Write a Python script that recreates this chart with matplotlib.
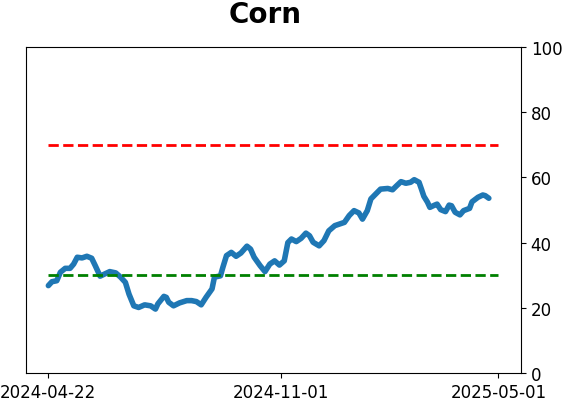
import matplotlib
matplotlib.use("Agg")
import matplotlib.pyplot as plt
import pandas as pd

# values (days after start, percent)
start = "2024-04-22"
end = "2025-05-01"
day_offsets = [0, 3, 7, 10, 14, 18, 21, 24, 28, 32, 36, 39, 43, 47, 51, 56, 60, 64,
               67, 71, 75, 80, 85, 89, 91, 96, 98, 100, 104, 109, 115, 119, 123, 127,
               131, 136, 138, 143, 145, 148, 152, 156, 160, 165, 168, 171, 176, 180,
               184, 188, 192, 196, 199, 202, 206, 210, 214, 217, 220, 225, 229, 233,
               238, 242, 246, 250, 254, 258, 261, 265, 268, 272, 276, 282, 286, 289,
               293, 297, 301, 304, 308, 310, 312, 315, 317, 321, 323, 326, 330, 333,
               335, 338, 342, 345, 350, 352, 357, 361, 363, 366]
values = [26.8, 28.0, 28.3, 30.9, 32.1, 32.1, 33.4, 35.5, 35.3, 35.8, 35.2, 32.9,
          29.7, 30.4, 31.1, 30.7, 29.4, 27.8, 24.2, 20.6, 20.1, 20.9, 20.6, 19.6,
          21.2, 23.5, 23.2, 21.7, 20.6, 21.5, 22.2, 22.2, 21.9, 20.9, 23.2, 25.8,
          29.4, 29.8, 32.4, 36.0, 37.0, 35.8, 36.8, 38.9, 38.0, 35.5, 32.9, 31.1,
          33.4, 34.4, 33.1, 34.4, 40.0, 41.1, 40.3, 41.3, 42.9, 42.1, 40.1, 39.0,
          40.6, 43.6, 45.2, 45.7, 46.2, 48.3, 49.8, 49.1, 47.2, 49.8, 53.4, 54.9,
          56.4, 56.6, 56.2, 57.3, 58.7, 58.2, 58.5, 59.3, 58.5, 56.4, 54.2, 52.4,
          50.8, 51.5, 51.8, 50.1, 49.5, 51.5, 51.3, 49.3, 48.5, 49.8, 50.5, 52.5,
          53.9, 54.6, 54.4, 53.6]
upper = 70
lower = 30
xtick_labels = ["2024-04-22", "2024-11-01", "2025-05-01"]

dates = pd.Timestamp(start) + pd.to_timedelta(day_offsets, unit="D")

fig = plt.figure(figsize=(5.62, 4.02), dpi=100)
ax = fig.add_axes([0.046, 0.0697, 0.881, 0.8109])

ax.plot(dates, values, color="#1f77b4", linewidth=4, solid_capstyle="round")
line_x = [pd.Timestamp(start), pd.Timestamp(end)]
ax.plot(line_x, [upper, upper], color="red", linestyle="--", linewidth=2)
ax.plot(line_x, [lower, lower], color="green", linestyle="--", linewidth=2)

ax.set_ylim(0, 100)
ax.yaxis.tick_right()
ax.set_yticks([0, 20, 40, 60, 80, 100])
ax.set_xticks([pd.Timestamp(t) for t in xtick_labels])
ax.set_xticklabels(xtick_labels)
ax.tick_params(labelsize=12)
ax.set_title("Corn", fontsize=20, fontweight="bold", pad=18, x=0.483)

fig.savefig("out.png", dpi=100)
